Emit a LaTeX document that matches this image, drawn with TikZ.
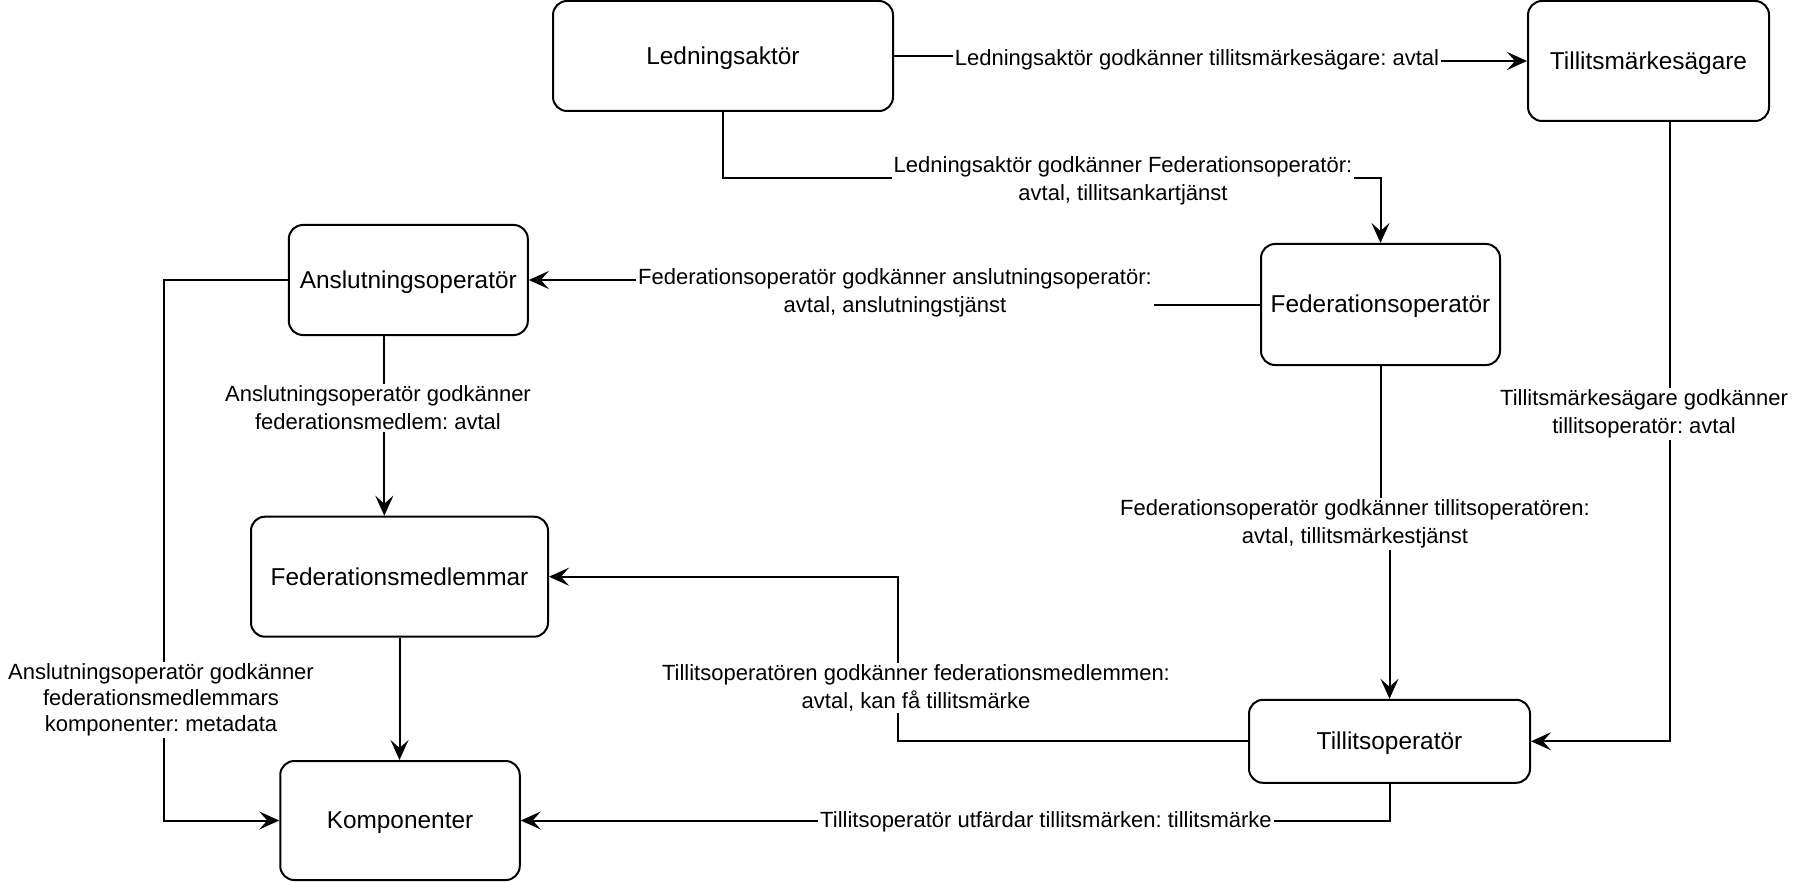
\documentclass[tikz,border=0pt]{standalone}
\usepackage{fontspec}
\setmainfont{Liberation Sans}
\usetikzlibrary{arrows.meta,calc}
\frenchspacing
\begin{document}
\begin{tikzpicture}[x=0.5pt,y=-0.5pt,
  box/.style={draw, rounded corners=7pt, line width=1pt, inner sep=0pt, align=center, text depth=0.5pt, font=\fontsize{12.2}{14}\selectfont},
  lbl/.style={fill=white, inner xsep=1pt, inner ysep=1pt, align=center, font=\fontsize{11}{14}\selectfont},
  conn/.style={line width=1pt},
  arr/.style={conn, -{Stealth[length=10pt,width=9pt,inset=4pt]}}]
\useasboundingbox (0,0) rectangle (1798,882);
% boxes
\node[box, minimum width=170pt, minimum height=55pt] (ledn) at (723,56) {Ledningsaktör};
\node[box, minimum width=120.5pt, minimum height=60pt] (tms) at (1648.5,61) {Tillitsmärkesägare};
\node[box, minimum width=119.5pt, minimum height=55pt] (anslut) at (408.3,280) {Anslutningsoperatör};
\node[box, minimum width=119.5pt, minimum height=60.5pt] (fedop) at (1380.5,304.5) {Federationsoperatör};
\node[box, minimum width=148.5pt, minimum height=60pt] (fedmed) at (399.5,576.7) {Federationsmedlemmar};
\node[box, minimum width=140.5pt, minimum height=41.5pt] (tillop) at (1389.5,741.3) {Tillitsoperatör};
\node[box, minimum width=119.75pt, minimum height=59.5pt] (komp) at (400,820.5) {Komponenter};
% connectors
\draw[arr] (ledn.east) -- (1197,56) -- (1197,61) -- (tms.west);
\draw[arr] (ledn.south) |- (1380.5,178) -- (fedop.north);
\draw[arr] (fedop.west) -- (894,304.5) -- (894,280) -- (anslut.east);
\draw[arr] ([xshift=-12pt]anslut.south) -- ([xshift=-12pt]anslut.south |- fedmed.north);
\draw[arr] (anslut.west) -- (163.6,280) |- (komp.west);
\draw[arr] (fedmed.south) -- (fedmed.south |- komp.north);
\draw[arr] (fedop.south) -- (1380.5,523) -- (1389.5,523) -- (tillop.north);
\draw[arr] ([xshift=10.75pt]tms.south) |- (tillop.east);
\draw[arr] (tillop.west) -- (898,741.3) |- (fedmed.east);
\draw[arr] (tillop.south) |- (komp.east);
% labels
\node[lbl] (lab1) at (1197,60) {Ledningsaktör godkänner tillitsmärkesägare: avtal};
\node[lbl] (lab2) at (1123,181) {Ledningsaktör godkänner Federationsoperatör:\\avtal, tillitsankartjänst};
\node[lbl] (lab3) at (895,292.5) {Federationsoperatör godkänner anslutningsoperatör:\\avtal, anslutningstjänst};
\node[lbl] (lab4) at (378,408) {Anslutningsoperatör godkänner\\federationsmedlem: avtal};
\node[lbl, font=\fontsize{11}{13}\selectfont] (lab5) at (161,700) {Anslutningsoperatör godkänner\\federationsmedlemmars\\komponenter: metadata};
\node[lbl] (lab6) at (1355,524) {Federationsoperatör godkänner tillitsoperatören:\\avtal, tillitsmärkestjänst};
\node[lbl] (lab7) at (1644,414) {Tillitsmärkesägare godkänner\\tillitsoperatör: avtal};
\node[lbl] (lab8) at (916,688) {Tillitsoperatören godkänner federationsmedlemmen:\\avtal, kan få tillitsmärke};
\node[lbl] (lab9) at (1046,822) {Tillitsoperatör utfärdar tillitsmärken: tillitsmärke};
\end{tikzpicture}
\end{document}
